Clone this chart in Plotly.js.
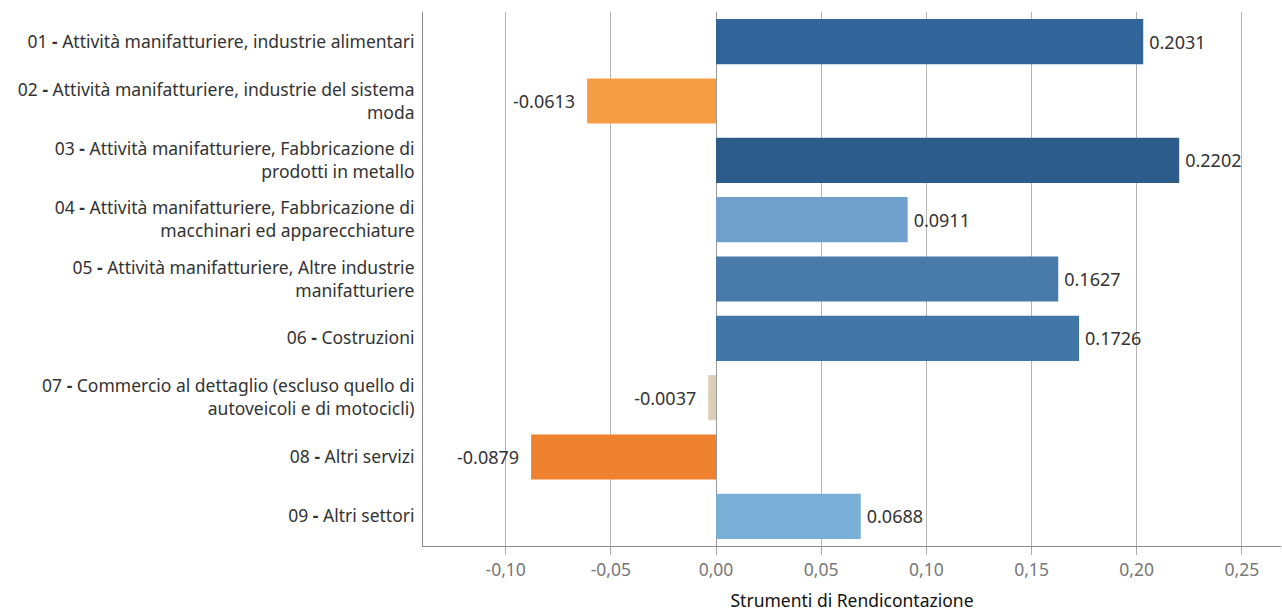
<!DOCTYPE html>
<html>
<head>
<meta charset="utf-8">
<script src="https://cdn.plot.ly/plotly-3.0.1.min.js"></script>
<style>html,body{margin:0;padding:0;background:#fff;}#chart{width:1282px;height:612px;}</style>
</head>
<body>
<div id="chart"></div>
<script>
const categories = [
  "01 <b>-</b> Attività manifatturiere, industrie alimentari",
  "02 <b>-</b> Attività manifatturiere, industrie del sistema<br>moda",
  "03 <b>-</b> Attività manifatturiere, Fabbricazione di<br>prodotti in metallo",
  "04 <b>-</b> Attività manifatturiere, Fabbricazione di<br>macchinari ed apparecchiature",
  "05 <b>-</b> Attività manifatturiere, Altre industrie<br>manifatturiere",
  "06 <b>-</b> Costruzioni",
  "07 <b>-</b> Commercio al dettaglio (escluso quello di<br>autoveicoli e di motocicli)",
  "08 <b>-</b> Altri servizi",
  "09 <b>-</b> Altri settori"
];
const values = [0.2031, -0.0613, 0.2202, 0.0911, 0.1627, 0.1726, -0.0037, -0.0879, 0.0688];
const barColors = ["#31659a", "#f59d42", "#2d5c8a", "#6fa0cb", "#487ba9", "#4276a6", "#ddcfb5", "#ee822f", "#79afd6"];
const tickValues = [-0.10, -0.05, 0.00, 0.05, 0.10, 0.15, 0.20, 0.25];
const axisTitle = "Strumenti di Rendicontazione";

const labels = values.map(v => v < 0 ? v.toFixed(4) + "\u2002" : "\u2009" + v.toFixed(4));
const tickLabels = tickValues.map(v => v.toFixed(2).replace(".", ","));
const FONT = "Noto Sans, sans-serif";

const trace = {
  type: "bar",
  orientation: "h",
  y: categories,
  x: values,
  marker: {color: barColors, line: {width: 0}},
  width: 0.76,
  text: labels,
  textposition: "outside",
  cliponaxis: false,
  textfont: {family: FONT, size: 18, color: "#333"},
  hoverinfo: "none"
};

const layout = {
  width: 1282,
  height: 612,
  margin: {l: 423, r: 1, t: 12, b: 66, pad: 0},
  paper_bgcolor: "#fff",
  plot_bgcolor: "#fff",
  showlegend: false,
  font: {family: FONT, size: 17.5, color: "#333"},
  xaxis: {
    range: [-0.1393, 0.2686],
    tickvals: tickValues,
    ticktext: tickLabels,
    showgrid: true,
    gridcolor: "#b4b4b4",
    gridwidth: 1,
    zeroline: true,
    zerolinecolor: "#999",
    zerolinewidth: 1,
    showline: true,
    linecolor: "#8a8a8a",
    linewidth: 1,
    ticks: "outside",
    ticklen: 8,
    tickcolor: "#aaa",
    tickfont: {family: FONT, size: 17.5, color: "#777"},
    title: {text: axisTitle, font: {family: FONT, size: 17.5, color: "#111"}, standoff: 19},
    fixedrange: true
  },
  yaxis: {
    autorange: false,
    range: [8.5, -0.5],
    type: "category",
    showgrid: false,
    showline: true,
    linecolor: "#8a8a8a",
    linewidth: 1,
    ticks: "",
    ticklabelstandoff: 4,
    tickfont: {family: FONT, size: 17.5, color: "#333"},
    fixedrange: true
  },
  bargap: 0.24
};

Plotly.newPlot("chart", [trace], layout, {displayModeBar: false, staticPlot: true});
</script>
</body>
</html>
